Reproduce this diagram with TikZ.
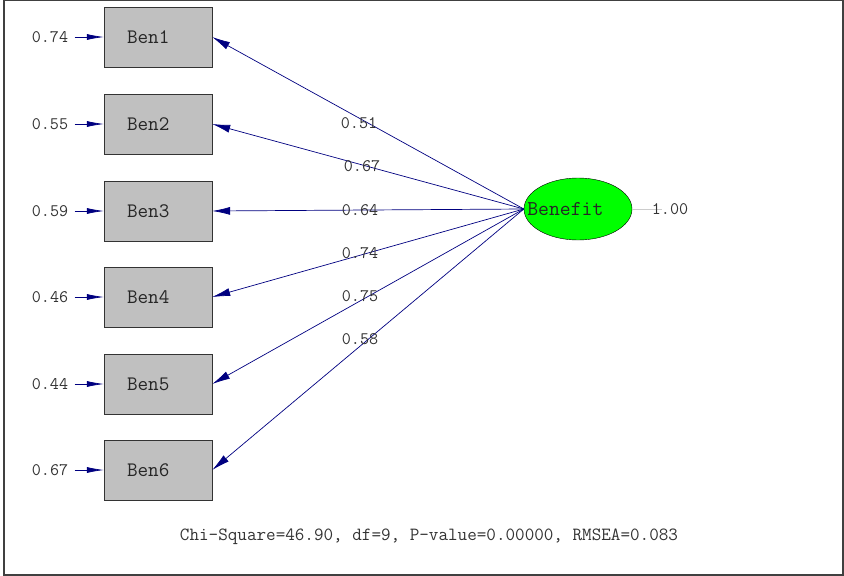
\documentclass[tikz,border=0pt]{standalone}
\usepackage{fontspec}
\usetikzlibrary{arrows.meta,shapes.geometric}
\definecolor{pathblue}{RGB}{0,0,128}
\definecolor{latgreen}{RGB}{0,255,0}
\definecolor{boxgray}{RGB}{192,192,192}

\begin{document}
\begin{tikzpicture}[x=1pt,y=-1pt,
    obs/.style={draw=black!80,fill=boxgray,minimum height=60pt,text width=62pt,
        inner xsep=23pt,inner ysep=0pt,align=left,
        font=\fontsize{20.6}{22}\selectfont\ttfamily,text=black!85},
    lat/.style={ellipse,draw=black,fill=latgreen,minimum width=108pt,minimum height=62pt,inner sep=0pt},
    num/.style={font=\fontsize{17.6}{19}\selectfont\ttfamily,text=black!80},
    load/.style={draw=pathblue,line width=0.7pt,-{Latex[length=18pt,width=8pt]}},
    err/.style={draw=pathblue,line width=0.7pt,shorten <=3pt,-{Latex[length=17pt,width=6pt]}}]
    \useasboundingbox (0,0) rectangle (844,576);
    \draw[black!75,line width=1.2pt] (4,0.5) rectangle (843,575);

    % indicators
    \node[obs] (b1) at (158,37) {Ben1};
    \node[obs] (b2) at (158,124) {Ben2};
    \node[obs] (b3) at (158,211) {Ben3};
    \node[obs] (b4) at (158,297) {Ben4};
    \node[obs] (b5) at (158,384) {Ben5};
    \node[obs] (b6) at (158,470) {Ben6};

    % error variances
    \node[num] (e1) at (50,37) {0.74};
    \node[num] (e2) at (50,124) {0.55};
    \node[num] (e3) at (50,211) {0.59};
    \node[num] (e4) at (50,297) {0.46};
    \node[num] (e5) at (50,384) {0.44};
    \node[num] (e6) at (50,470) {0.67};
    \draw[err] (e1) -- (b1);
    \draw[err] (e2) -- (b2);
    \draw[err] (e3) -- (b3);
    \draw[err] (e4) -- (b4);
    \draw[err] (e5) -- (b5);
    \draw[err] (e6) -- (b6);

    % latent variable
    \node[lat,label={[anchor=west,font=\fontsize{21.1}{22}\selectfont\ttfamily,text=black!85]west:Benefit}] (ben) at (578,209) {};
    \coordinate (v) at (662,209);
    \draw[black!20,line width=1pt] (ben.east) -- (v);
    \node[num] (vl) at (670,209) {1.00};

    % loadings
    \draw[load] (ben.west) -- node[num,pos=0.5,xshift=-9pt] {0.51} (b1.east);
    \draw[load] (ben.west) -- node[num,pos=0.5,xshift=-6pt] {0.67} (b2.east);
    \draw[load] (ben.west) -- node[num,pos=0.5,xshift=-8pt] {0.64} (b3.east);
    \draw[load] (ben.west) -- node[num,pos=0.5,xshift=-8pt] {0.74} (b4.east);
    \draw[load] (ben.west) -- node[num,pos=0.5,xshift=-8pt] {0.75} (b5.east);
    \draw[load] (ben.west) -- node[num,pos=0.5,xshift=-8pt] {0.58} (b6.east);

    \node[num,font=\fontsize{18.6}{20}\selectfont\ttfamily] (fit) at (429,537)
        {Chi-Square=46.90, df=9, P-value=0.00000, RMSEA=0.083};
\end{tikzpicture}
\end{document}
